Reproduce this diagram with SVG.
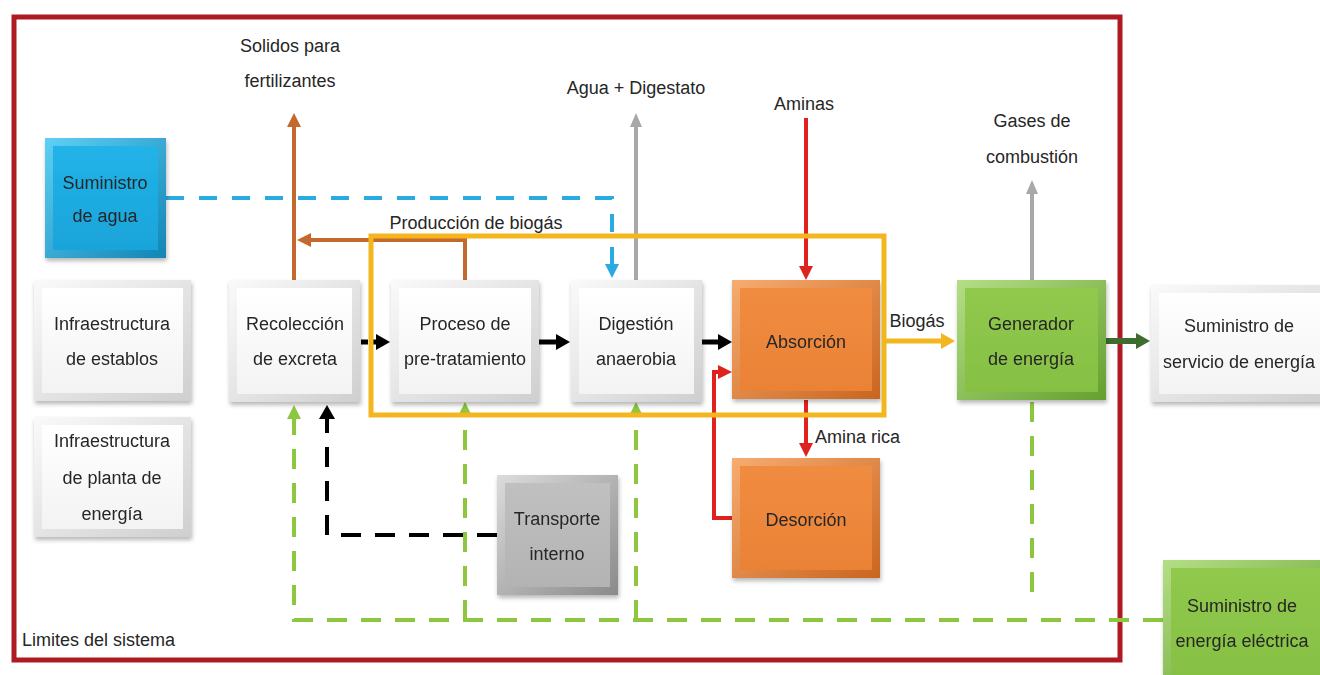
<svg xmlns="http://www.w3.org/2000/svg" width="1320" height="675" viewBox="0 0 1320 675">
<style>
text{font-family:"Liberation Sans",Arial,sans-serif;font-size:18px;fill:#262626;text-anchor:middle}
.frame{fill:none;stroke:#ad1a22;stroke-width:5}
.yel{fill:none;stroke:#f3b61f;stroke-width:5}
.c{fill:none;stroke-width:4}
.brown{stroke:#c4692e}
.gray{stroke:#a8a8a8}
.red{stroke:#e0221f}
.blue{stroke:#29abe2;stroke-dasharray:18 15}
.ylw{stroke:#f3b61f;stroke-width:5}
.dgr{stroke:#3e6b2e;stroke-width:6}
.blk{stroke:#000;stroke-width:5}
.bdash{stroke:#000;stroke-dasharray:20 14}
.gdash{stroke:#8dc63f;stroke-dasharray:20 14}
.w0{fill:url(#bw)}.w1{fill:url(#gw)}
.b0{fill:url(#bb)}.b1{fill:url(#gb)}
.o0{fill:url(#bo)}.o1{fill:url(#go)}
.g0{fill:url(#bg)}.g1{fill:url(#gg)}
.s0{fill:url(#bs)}.s1{fill:url(#gs)}
</style>
<defs>
<filter id="sh" x="-10%" y="-10%" width="125%" height="125%"><feDropShadow dx="1" dy="3" stdDeviation="2" flood-color="#000" flood-opacity="0.28"/></filter>
<linearGradient id="gw" x1="0" y1="0" x2="0" y2="1"><stop offset="0" stop-color="#ffffff"/><stop offset="1" stop-color="#f3f3f3"/></linearGradient>
<linearGradient id="bw" x1="0" y1="0" x2="1" y2="1"><stop offset="0" stop-color="#fafafa"/><stop offset="1" stop-color="#cfcfcf"/></linearGradient>
<linearGradient id="gb" x1="0" y1="0" x2="0" y2="1"><stop offset="0" stop-color="#22b3e8"/><stop offset="1" stop-color="#19a4da"/></linearGradient>
<linearGradient id="bb" x1="0" y1="0" x2="1" y2="1"><stop offset="0" stop-color="#5fd0f4"/><stop offset="1" stop-color="#1285b5"/></linearGradient>
<linearGradient id="go" x1="0" y1="0" x2="0" y2="1"><stop offset="0" stop-color="#f08c40"/><stop offset="1" stop-color="#ea8236"/></linearGradient>
<linearGradient id="bo" x1="0" y1="0" x2="1" y2="1"><stop offset="0" stop-color="#f7ac70"/><stop offset="1" stop-color="#c96520"/></linearGradient>
<linearGradient id="gg" x1="0" y1="0" x2="0" y2="1"><stop offset="0" stop-color="#90c94d"/><stop offset="1" stop-color="#86c043"/></linearGradient>
<linearGradient id="bg" x1="0" y1="0" x2="1" y2="1"><stop offset="0" stop-color="#b5de86"/><stop offset="1" stop-color="#64a02e"/></linearGradient>
<linearGradient id="gs" x1="0" y1="0" x2="0" y2="1"><stop offset="0" stop-color="#c0c0c0"/><stop offset="1" stop-color="#b3b3b3"/></linearGradient>
<linearGradient id="bs" x1="0" y1="0" x2="1" y2="1"><stop offset="0" stop-color="#dcdcdc"/><stop offset="1" stop-color="#8a8a8a"/></linearGradient>
<marker id="mBr" markerUnits="userSpaceOnUse" markerWidth="16" markerHeight="16" refX="4" refY="8" orient="auto"><path d="M0,1 L14,8 L0,15 z" fill="#c4692e"/></marker>
<marker id="mGy" markerUnits="userSpaceOnUse" markerWidth="16" markerHeight="16" refX="4" refY="8" orient="auto"><path d="M0,2 L14,8 L0,14 z" fill="#a8a8a8"/></marker>
<marker id="mRd" markerUnits="userSpaceOnUse" markerWidth="16" markerHeight="16" refX="4" refY="8" orient="auto"><path d="M0,1 L14,8 L0,15 z" fill="#e0221f"/></marker>
<marker id="mBl" markerUnits="userSpaceOnUse" markerWidth="16" markerHeight="16" refX="4" refY="8" orient="auto"><path d="M0,1 L14,8 L0,15 z" fill="#29abe2"/></marker>
<marker id="mYl" markerUnits="userSpaceOnUse" markerWidth="16" markerHeight="18" refX="4" refY="9" orient="auto"><path d="M0,1 L14,9 L0,17 z" fill="#f3b61f"/></marker>
<marker id="mDg" markerUnits="userSpaceOnUse" markerWidth="16" markerHeight="18" refX="4" refY="9" orient="auto"><path d="M0,1 L14,9 L0,17 z" fill="#3e6b2e"/></marker>
<marker id="mBk" markerUnits="userSpaceOnUse" markerWidth="16" markerHeight="18" refX="4" refY="9" orient="auto"><path d="M0,1 L14,9 L0,17 z" fill="#000"/></marker>
<marker id="mGr" markerUnits="userSpaceOnUse" markerWidth="16" markerHeight="16" refX="4" refY="8" orient="auto"><path d="M0,1 L14,8 L0,15 z" fill="#8dc63f"/></marker>
</defs>
<rect x="0" y="0" width="1320" height="675" fill="#ffffff"/>
<rect class="frame" x="14" y="17" width="1106" height="643"/>
<text x="22" y="646" style="text-anchor:start">Limites del sistema</text>

<g id="connectors">
<path class="c gdash" d="M1163,620 H294 V415" marker-end="url(#mGr)"/>
<path class="c gdash" d="M465,620 V412" marker-end="url(#mGr)"/>
<path class="c gdash" d="M636,620 V412" marker-end="url(#mGr)"/>
<path class="c gdash" d="M1032,402 V604"/>
<path class="c bdash" d="M497,535 H327 V415" marker-end="url(#mBk)"/>
<path class="c brown" d="M294,280 V123" marker-end="url(#mBr)"/>
<path class="c brown" d="M465,280 V240 H307" marker-end="url(#mBr)"/>
<path class="c gray" d="M636,280 V123" marker-end="url(#mGy)"/>
<path class="c gray" d="M1032,280 V190" marker-end="url(#mGy)"/>
<path class="c blue" d="M166,198 H612 V268" marker-end="url(#mBl)"/>
<path class="c red" d="M806,118 V270" marker-end="url(#mRd)"/>
<path class="c red" d="M806,400 V447" marker-end="url(#mRd)"/>
<path class="c red" d="M732,518 H714 V372 H722" marker-end="url(#mRd)"/>
<path class="c blk" d="M361,342 H380" stroke-dasharray="7 3" marker-end="url(#mBk)"/>
<path class="c blk" d="M539,342 H560" marker-end="url(#mBk)"/>
<path class="c blk" d="M702,342 H722" marker-end="url(#mBk)"/>
<path class="c ylw" d="M884,341 H945" marker-end="url(#mYl)"/>
<path class="c dgr" d="M1106,341 H1140" marker-end="url(#mDg)"/>
</g>

<g id="n-agua" filter="url(#sh)"><rect class="b0" x="45" y="138" width="121" height="120"/><rect class="b1" x="53" y="146" width="105" height="104"/><text x="105" y="189">Suministro</text><text x="105" y="222">de agua</text></g>
<g id="n-establos" filter="url(#sh)"><rect class="w0" x="34" y="280" width="157" height="121"/><rect class="w1" x="42" y="288" width="141" height="105"/><text x="112" y="330">Infraestructura</text><text x="112" y="365">de establos</text></g>
<g id="n-planta" filter="url(#sh)"><rect class="w0" x="34" y="417" width="157" height="120"/><rect class="w1" x="42" y="425" width="141" height="104"/><text x="112" y="447">Infraestructura</text><text x="112" y="484">de planta de</text><text x="112" y="520">energía</text></g>
<g id="n-recoleccion" filter="url(#sh)"><rect class="w0" x="229" y="280" width="131" height="122"/><rect class="w1" x="237" y="288" width="115" height="106"/><text x="295" y="330">Recolección</text><text x="295" y="365">de excreta</text></g>
<g id="n-proceso" filter="url(#sh)"><rect class="w0" x="391" y="280" width="148" height="122"/><rect class="w1" x="399" y="288" width="132" height="106"/><text x="465" y="330">Proceso de</text><text x="465" y="365">pre-tratamiento</text></g>
<g id="n-digestion" filter="url(#sh)"><rect class="w0" x="571" y="280" width="131" height="122"/><rect class="w1" x="579" y="288" width="115" height="106"/><text x="636" y="330">Digestión</text><text x="636" y="365">anaerobia</text></g>
<g id="n-absorcion" filter="url(#sh)"><rect class="o0" x="732" y="280" width="148" height="119"/><rect class="o1" x="740" y="288" width="132" height="103"/><text x="806" y="348">Absorción</text></g>
<g id="n-desorcion" filter="url(#sh)"><rect class="o0" x="732" y="458" width="148" height="120"/><rect class="o1" x="740" y="466" width="132" height="104"/><text x="806" y="526">Desorción</text></g>
<g id="n-transporte" filter="url(#sh)"><rect class="s0" x="497" y="475" width="121" height="120"/><rect class="s1" x="505" y="483" width="105" height="104"/><text x="557" y="525">Transporte</text><text x="557" y="560">interno</text></g>
<g id="n-generador" filter="url(#sh)"><rect class="g0" x="957" y="280" width="149" height="120"/><rect class="g1" x="965" y="288" width="133" height="104"/><text x="1031" y="330">Generador</text><text x="1031" y="365">de energía</text></g>
<g id="n-servicio" filter="url(#sh)"><rect class="w0" x="1151" y="285" width="175" height="117"/><rect class="w1" x="1159" y="293" width="170" height="101"/><text x="1239" y="332">Suministro de</text><text x="1239" y="368">servicio de energía</text></g>
<g id="n-electrica" filter="url(#sh)"><rect class="g0" x="1163" y="560" width="165" height="120"/><rect class="g1" x="1171" y="568" width="160" height="110"/><text x="1242" y="612">Suministro de</text><text x="1242" y="647">energía eléctrica</text></g>

<rect class="yel" x="371" y="236" width="513" height="179"/>

<g id="labels">
<text x="290" y="52">Solidos para</text>
<text x="290" y="87">fertilizantes</text>
<text x="476" y="229">Producción de biogás</text>
<text x="636" y="94">Agua + Digestato</text>
<text x="804" y="110">Aminas</text>
<text x="1032" y="127">Gases de</text>
<text x="1032" y="163">combustión</text>
<text x="815" y="443" style="text-anchor:start">Amina rica</text>
<text x="917" y="327">Biogás</text>
</g>
</svg>
